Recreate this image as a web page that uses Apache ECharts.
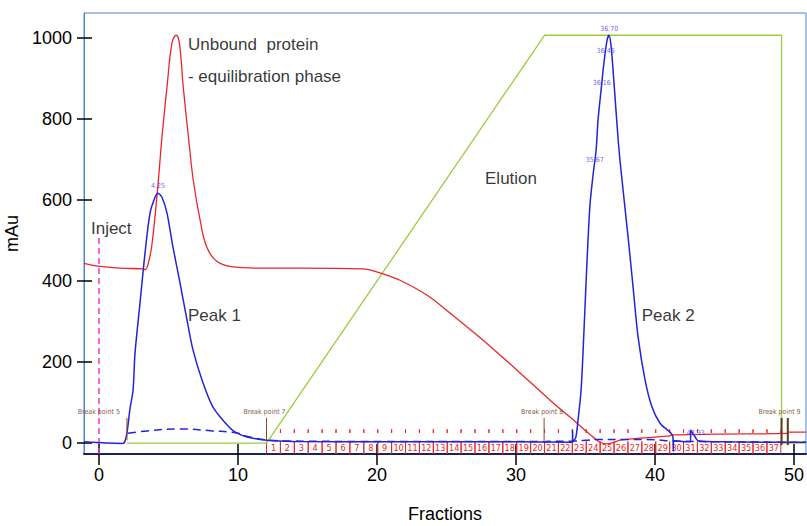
<html>
<head>
<meta charset="UTF-8">
<script src="https://cdn.jsdelivr.net/npm/echarts@6/dist/echarts.min.js"></script>
<style>
  html, body { margin: 0; padding: 0; background: #fff; }
  #chart { width: 807px; height: 526px; }
</style>
</head>
<body>
<div id="chart"></div>
<script>
// axis extents (mL / mAu)
const xMin = -1.08, xMax = 50.86
const yMin = -27, yMax = 1062
const xTicks = [0, 10, 20, 30, 40, 50]
const yTicks = [0, 200, 400, 600, 800, 1000]

// red trace
const redTrace = [
  [-1.08, 444], [-0.07, 437], [1.5, 432], [3.17, 430], [3.31, 428], [3.53, 442], [3.81, 491],
  [4.24, 637], [4.53, 756], [4.89, 879], [5.25, 988], [5.54, 1007], [5.78, 988], [6.06, 879],
  [6.42, 760], [6.78, 649], [7.27, 551], [7.75, 484], [8.47, 449], [9.64, 435], [11.58, 432],
  [14.46, 432], [18.99, 430], [20.22, 420], [21.65, 402], [23.6, 365], [25.25, 321], [27.63, 254],
  [30.07, 180], [32.45, 106], [34.39, 49], [35.54, 15], [36.04, 2], [36.55, -2], [37.05, 2],
  [37.48, 7], [38.9, 12], [40.9, 17], [41.3, 20], [44.5, 22], [49.5, 24], [49.6, 27], [50.86, 27]
]

// blue trace
const blueTrace = [
  [-1.08, 3], [0.5, 0], [1.7, -1], [1.85, 3], [2.01, 25], [2.23, 85], [2.45, 131], [2.59, 222],
  [2.95, 346], [3.31, 469], [3.67, 568], [4.03, 607], [4.24, 617], [4.53, 607], [4.89, 568],
  [5.32, 484], [5.83, 395], [6.33, 304], [6.76, 230], [7.41, 156], [8.2, 89], [9.42, 37],
  [9.9, 25], [10.65, 15], [12.09, 7], [14, 4], [20, 3], [30, 3], [34.05, 2], [34.07, 32],
  [34.1, 3], [34.3, 14], [34.46, 57], [34.68, 131], [34.89, 279], [35.11, 452], [35.32, 588],
  [35.54, 662], [35.76, 723], [35.9, 798], [36.12, 872], [36.33, 941], [36.55, 995], [36.69, 1007],
  [36.83, 983], [36.98, 921], [37.19, 822], [37.41, 723], [37.7, 625], [38.06, 509], [38.42, 385],
  [38.78, 262], [39.28, 156], [39.78, 89], [40.36, 49], [41.29, 15], [41.31, -20], [41.34, 6],
  [42.3, 3], [42.55, 3], [42.57, 32], [42.8, 20], [43.1, 6], [45, 3], [50.86, 2]
]

// blue dashed trace
const dashTrace = [
  [2.09, 24], [3.45, 30], [5.83, 35], [8.2, 30], [9.93, 25], [10.6, 17], [12, 8], [14, 5],
  [20, 4], [30, 4], [34.2, 5], [35, 7], [36, 9], [38, 9], [40, 8], [41.3, 5], [45, 3], [50.86, 2]
]

// green gradient
const greenTrace = [[2.01, 0], [12.05, 0], [32.05, 1007], [49.1, 1007], [49.1, 0], [50.86, 0]]

// inject mark
const injectTrace = [[0, yMin], [0, 513]]

// fractions
const fractionEdges = [12.05, 13.05, 14.05, 15.05, 16.05, 17.05, 18.05, 19.05, 20.05, 21.05,
  22.05, 23.05, 24.05, 25.05, 26.05, 27.05, 28.05, 29.05, 30.05, 31.05, 32.05, 33.05, 34.05,
  35.05, 36.05, 37.05, 38.05, 39.05, 40.05, 41.05, 42.05, 43.05, 44.05, 45.05, 46.05, 47.05,
  48.05, 49.05]
const fractionNames = [1, 2, 3, 4, 5, 6, 7, 8, 9, 10, 11, 12, 13, 14, 15, 16, 17, 18, 19, 20,
  21, 22, 23, 24, 25, 26, 27, 28, 29, 30, 31, 32, 33, 34, 35, 36, 37]

const breakPoints = [[2.01, 'Break point 5'], [12.05, 'Break point 7'], [32.02, 'Break point 8'],
  [49.1, 'Break point 9'], [49.55, '']]

const peakLabels = [[4.25, 635, '4.25'], [36.70, 1022, '36.70'], [36.46, 968, '36.46'],
  [36.16, 889, '36.16'], [35.67, 699, '35.67'], [42.93, 24, '42.93']]

const notes = [[6.40, 985, 'Unbound  protein'], [6.40, 906, '- equilibration phase'],
  [-0.58, 531, 'Inject'], [6.40, 316, 'Peak 1'], [27.77, 654, 'Elution'], [39.04, 316, 'Peak 2']]

const FONT = 'Liberation Sans, Arial, sans-serif'
const NARROW = 'Liberation Sans Narrow, DejaVu Sans Condensed, sans-serif'
const RED = '#e8262a', BLUE = '#2323d8', GREEN = '#9ccc3c'

const fractionData = fractionNames.map((n, i) => [fractionEdges[i], fractionEdges[i + 1], n])

function renderFraction(params, api) {
  const s = api.value(0), e = api.value(1)
  const a = api.coord([s, 4]), b = api.coord([s, yMin])
  const c = api.coord([e, 4])
  const d1 = api.coord([s, 34]), d2 = api.coord([s, 25])
  const e1 = api.coord([e, 34])
  const mid = api.coord([(s + e) / 2, -11])
  const st = { stroke: RED, lineWidth: 1 }
  return {
    type: 'group',
    children: [
      { type: 'line', shape: { x1: a[0], y1: a[1], x2: a[0], y2: b[1] }, style: st },
      { type: 'line', shape: { x1: c[0], y1: c[1], x2: c[0], y2: b[1] }, style: st },
      { type: 'line', shape: { x1: d1[0], y1: d1[1], x2: d1[0], y2: d2[1] }, style: st },
      { type: 'line', shape: { x1: e1[0], y1: e1[1], x2: e1[0], y2: d2[1] }, style: st },
      { type: 'text', style: { x: mid[0], y: mid[1], text: String(fractionNames[params.dataIndex]),
        fill: RED, font: '9px ' + NARROW, align: 'center', verticalAlign: 'middle' } }
    ]
  }
}

function renderBreak(params, api) {
  const x = api.value(0)
  const last = params.dataIndex >= 3
  const first = params.dataIndex === 0
  const top = api.coord([x, 62]), bot = api.coord([x, last ? -5 : 7])
  const txt = api.coord([x, 77])
  return {
    type: 'group',
    children: [
      { type: 'line', shape: { x1: top[0], y1: top[1], x2: top[0], y2: bot[1] },
        style: { stroke: last ? '#5b3a1e' : '#8b4a2b', lineWidth: last ? 2 : 1 } },
      { type: 'text', style: { x: first ? txt[0] - 7 : txt[0] - 2, y: txt[1],
        text: breakPoints[params.dataIndex][1], fill: '#8c5a46', font: '7px ' + NARROW,
        align: first ? 'right' : 'center', verticalAlign: 'middle' } }
    ]
  }
}

const chart = echarts.init(document.getElementById('chart'), null, { renderer: 'svg' })
chart.setOption({
  animation: false,
  grid: { left: 84, right: 1, top: 13, bottom: 72, show: true, borderColor: '#4a86cc', borderWidth: 1,
    containLabel: false, outerBoundsMode: 'none' },
  xAxis: [{
    type: 'value', min: xMin, max: xMax,
    name: 'Fractions', nameLocation: 'middle', nameGap: 51,
    nameTextStyle: { fontSize: 18, color: '#000', fontFamily: FONT },
    axisLine: { onZero: false, lineStyle: { color: '#1b2450', width: 2 } },
    axisTick: { customValues: xTicks, length: 11, lineStyle: { color: '#000', width: 1.5 } },
    axisLabel: { customValues: xTicks, fontSize: 18, color: '#000', fontFamily: FONT, margin: 12 },
    splitLine: { show: false }
  }, {
    type: 'value', min: xMin, max: xMax, position: 'bottom',
    axisLine: { show: false, onZero: false },
    axisTick: { customValues: xTicks, inside: true, length: 10, lineStyle: { color: '#000', width: 1.5 } },
    axisLabel: { show: false }, splitLine: { show: false }
  }],
  yAxis: [{
    type: 'value', min: yMin, max: yMax,
    name: 'mAu', nameLocation: 'middle', nameGap: 52,
    nameTextStyle: { fontSize: 18, color: '#000', fontFamily: FONT },
    axisLine: { show: true, onZero: false, lineStyle: { color: '#4a86cc', width: 1 } },
    axisTick: { customValues: yTicks, length: 7, lineStyle: { color: '#000', width: 1.5 } },
    axisLabel: { customValues: yTicks, fontSize: 18, color: '#000', fontFamily: FONT, margin: 12,
      formatter: v => String(v) },
    splitLine: { show: false }
  }, {
    type: 'value', min: yMin, max: yMax, position: 'left',
    axisLine: { show: false, onZero: false },
    axisTick: { customValues: yTicks, inside: true, length: 8, lineStyle: { color: '#000', width: 1.5 } },
    axisLabel: { show: false }, splitLine: { show: false }
  }],
  series: [
    { type: 'custom', renderItem: renderFraction, data: fractionData, z: 2 },
    { type: 'line', data: greenTrace, showSymbol: false, lineStyle: { color: GREEN, width: 1.3 }, z: 3 },
    { type: 'line', data: injectTrace, showSymbol: false,
      lineStyle: { color: '#ee33cc', width: 1.5, type: [6, 4] }, z: 3 },
    { type: 'line', data: redTrace, showSymbol: false, smooth: 0.4,
      lineStyle: { color: RED, width: 1.3 }, z: 4 },
    { type: 'line', data: dashTrace, showSymbol: false, smooth: 0.4,
      lineStyle: { color: BLUE, width: 1.5, type: [8, 5] }, z: 5 },
    { type: 'line', data: blueTrace, showSymbol: false, smooth: 0.3,
      lineStyle: { color: BLUE, width: 1.5 }, z: 6 },
    { type: 'custom', renderItem: renderBreak, data: breakPoints, z: 7 },
    { type: 'scatter', symbolSize: 0, z: 8,
      data: peakLabels.map(p => ({ value: [p[0], p[1]], name: p[2] })),
      label: { show: true, position: 'inside', formatter: '{b}', color: '#3a3ae0',
        fontSize: 7, fontFamily: NARROW } },
    { type: 'scatter', symbolSize: 0, z: 8,
      data: notes.map(p => ({ value: [p[0], p[1]], name: p[2] })),
      label: { show: true, position: 'right', distance: 0, formatter: '{b}', color: '#000',
        fontSize: 17, fontFamily: FONT } }
  ]
})
</script>
</body>
</html>
